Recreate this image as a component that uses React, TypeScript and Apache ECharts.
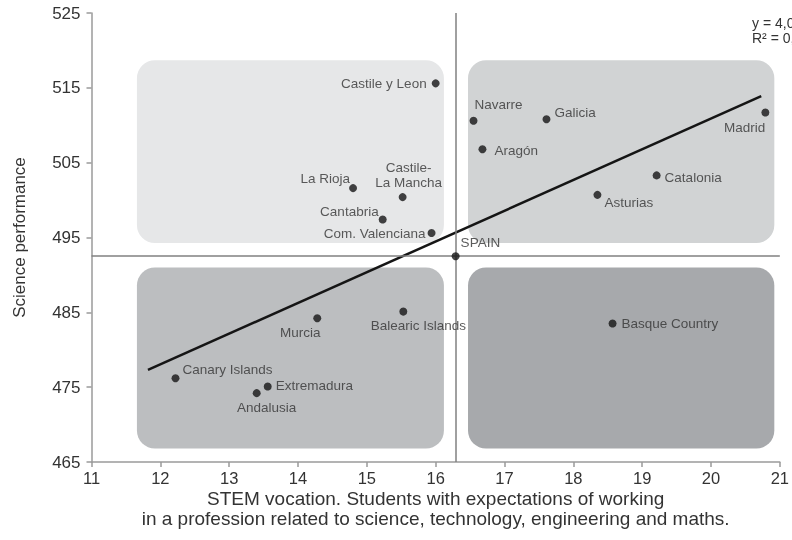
import React, { useEffect, useRef } from "react";
import * as echarts from "echarts";

// ---- Data ----
const regions = [
  "Castile y Leon", "La Rioja", "Castile-\nLa Mancha", "Cantabria", "Com. Valenciana",
  "SPAIN", "Navarre", "Galicia", "Aragón", "Madrid", "Catalonia", "Asturias",
  "Murcia", "Balearic Islands", "Canary Islands", "Extremadura", "Andalusia", "Basque Country",
];
const stemVocation = [
  16.0, 14.8, 15.52, 15.23, 15.94,
  16.29, 16.55, 17.61, 16.68, 20.79, 19.21, 18.35,
  14.28, 15.53, 12.22, 13.56, 13.4, 18.57,
];
const sciencePerformance = [
  515.6, 501.6, 500.4, 497.4, 495.6,
  492.5, 510.6, 510.8, 506.8, 511.7, 503.3, 500.7,
  484.2, 485.1, 476.2, 475.1, 474.2, 483.5,
];
const trendX = [11.82, 20.73];
const trendY = [477.3, 513.9];
const quadrantX0 = [11.66, 16.47, 11.66, 16.47];
const quadrantX1 = [16.12, 20.92, 16.12, 20.92];
const quadrantY0 = [518.7, 518.7, 491.0, 491.0];
const quadrantY1 = [494.25, 494.25, 466.8, 466.8];
const equationText = ["y = 4,07x + 429,2", "R² = 0,63"];

// ---- Styles ----
const quadrantColors = ["#e6e7e8", "#d1d3d4", "#bcbec0", "#a7a9ac"];
const FONT = "Liberation Sans";
const TEXT = "#333333";

// label placement (align, offset from dot center)
const labelPlacement: Record<string, [string, number, number]> = {
  "Castile y Leon": ["right", -9, 0],
  "La Rioja": ["right", -3, -10],
  "Castile-\nLa Mancha": ["center", 6, -22],
  "Cantabria": ["right", -4, -8],
  "Com. Valenciana": ["right", -6, 0],
  "SPAIN": ["left", 5, -14],
  "Navarre": ["left", 1, -16],
  "Galicia": ["left", 8, -7],
  "Aragón": ["left", 12, 1],
  "Madrid": ["right", 0, 15],
  "Catalonia": ["left", 8, 2],
  "Asturias": ["left", 7, 8],
  "Murcia": ["center", -17, 14],
  "Balearic Islands": ["center", 15, 14],
  "Canary Islands": ["left", 7, -9],
  "Extremadura": ["left", 8, -1],
  "Andalusia": ["center", 10, 14],
  "Basque Country": ["left", 9, 0],
};

export default function App() {
  const ref = useRef<HTMLDivElement>(null);
  useEffect(() => {
    document.body.style.margin = "0";
    const chart = echarts.init(ref.current!, null, { renderer: "svg" });
    const spainIdx = regions.indexOf("SPAIN");
    const scatterData = regions.map((n, i) => {
      const [align, dx, dy] = labelPlacement[n];
      return {
        name: n,
        value: [stemVocation[i], sciencePerformance[i]],
        label: {
          show: true,
          formatter: n,
          position: "inside",
          align,
          verticalAlign: "middle",
          offset: [dx, dy],
          color: TEXT,
          fontFamily: FONT,
          fontSize: 13.5,
          lineHeight: 15,
        },
      };
    });
    const boxes = quadrantX0.map((x0, i) => [x0, quadrantX1[i], quadrantY0[i], quadrantY1[i]]);
    chart.setOption({
      animation: false,
      textStyle: { fontFamily: FONT },
      grid: { left: 91.5, right: 10, top: 13, bottom: 78 },
      xAxis: {
        type: "value",
        min: 11,
        max: 21,
        interval: 1,
        splitLine: { show: false },
        axisLine: { show: true, lineStyle: { color: "#9a9a9a", width: 1.5 } },
        axisTick: { show: true, length: 5, lineStyle: { color: "#9a9a9a", width: 1.5 } },
        axisLabel: { color: TEXT, fontSize: 16.5, lineHeight: 16, margin: 8, fontFamily: FONT },
        name: "STEM vocation. Students with expectations of working\nin a profession related to science, technology, engineering and maths.",
        nameLocation: "middle",
        nameGap: 26,
        nameMoveOverlap: false,
        nameTextStyle: { color: TEXT, fontSize: 19, lineHeight: 20, fontFamily: FONT },
      },
      yAxis: {
        type: "value",
        min: 465,
        max: 525,
        interval: 10,
        splitLine: { show: false },
        axisLine: { show: true, lineStyle: { color: "#9a9a9a", width: 1.5 } },
        axisTick: { show: true, length: 5, lineStyle: { color: "#9a9a9a", width: 1.5 } },
        axisLabel: { color: TEXT, fontSize: 17, margin: 11, fontFamily: FONT },
        name: "Science performance",
        nameLocation: "middle",
        nameGap: 64,
        nameMoveOverlap: false,
        nameTextStyle: { color: TEXT, fontSize: 17, fontFamily: FONT },
      },
      graphic: equationText.map((t, i) => ({
        type: "text",
        left: 752,
        top: 16 + i * 15,
        style: { text: t, fill: TEXT, fontSize: 14, lineHeight: 14, fontFamily: FONT },
      })),
      series: [
        {
          type: "custom",
          z: 1,
          silent: true,
          clip: false,
          encode: { x: [0, 1], y: [2, 3] },
          data: boxes,
          renderItem: (params: any, api: any) => {
            const p0 = api.coord([api.value(0), api.value(2)]);
            const p1 = api.coord([api.value(1), api.value(3)]);
            return {
              type: "rect",
              shape: { x: p0[0], y: p0[1], width: p1[0] - p0[0], height: p1[1] - p0[1], r: 18 },
              style: { fill: quadrantColors[params.dataIndex] },
            };
          },
        },
        {
          type: "line",
          z: 3,
          silent: true,
          symbol: "none",
          data: trendX.map((x, i) => [x, trendY[i]]),
          lineStyle: { color: "#151515", width: 2.5 },
          markLine: {
            silent: true,
            symbol: "none",
            label: { show: false },
            lineStyle: { color: "#808080", width: 1.5, type: "solid" },
            data: [{ xAxis: stemVocation[spainIdx] }, { yAxis: sciencePerformance[spainIdx] }],
          },
        },
        {
          type: "scatter",
          z: 5,
          symbolSize: 8,
          itemStyle: { color: "#151515" },
          data: scatterData,
        },
      ],
    });
    return () => chart.dispose();
  }, []);
  return <div ref={ref} style={{ position: "fixed", left: 0, top: 0, width: 792, height: 540 }} />;
}
